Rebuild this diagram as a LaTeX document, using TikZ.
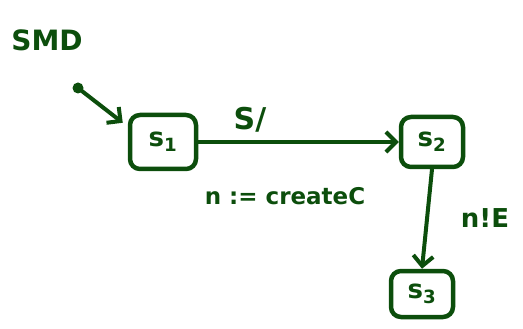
\documentclass[tikz,border=0pt]{standalone}
\usepackage{fontspec}
\setmainfont{DejaVu Sans}
\usetikzlibrary{arrows.meta}
\definecolor{ink}{RGB}{12,78,12}
\begin{document}
\begin{tikzpicture}[x=1pt,y=-1pt,
  state/.style={draw=ink, line width=4.5pt, rounded corners=10pt, minimum width=62pt, minimum height=50pt, text=ink, font=\fontsize{26}{28}\selectfont\bfseries},
  lbl/.style={text=ink, font=\fontsize{30}{32}\selectfont\bfseries},
  conn/.style={draw=ink, line width=4pt, line cap=round, -{Straight Barb[length=10pt,width=20pt,line width=4pt]}}]
\useasboundingbox (0,0) rectangle (523,329);
\node[lbl, font=\fontsize{28}{30}\selectfont\bfseries] (smd) at (47,40) {SMD};
\fill[ink] (78,88) circle (5.5pt);
\coordinate (init) at (78,88);
\node[state, minimum width=66pt, minimum height=54pt] (s1) at (163,142) {s\textsubscript{1}};
\node[state, minimum width=62pt, minimum height=50pt] (s2) at (432,142) {s\textsubscript{2}};
\node[state, minimum width=62pt, minimum height=46pt] (s3) at (422,294) {s\textsubscript{3}};
\draw[conn] (init) -- ([shift={(-5,10)}]s1.north west);
\draw[conn] (s1.east) -- (s2.west);
\node[lbl] (l1) at (250,120) {S/};
\node[lbl, font=\fontsize{23}{25}\selectfont\bfseries] (l2) at (285,196) {n := createC};
\draw[conn] (s2.south) -- (s3.north);
\node[lbl, font=\fontsize{26}{28}\selectfont\bfseries] (l3) at (485,218) {n!E};
\end{tikzpicture}
\end{document}
